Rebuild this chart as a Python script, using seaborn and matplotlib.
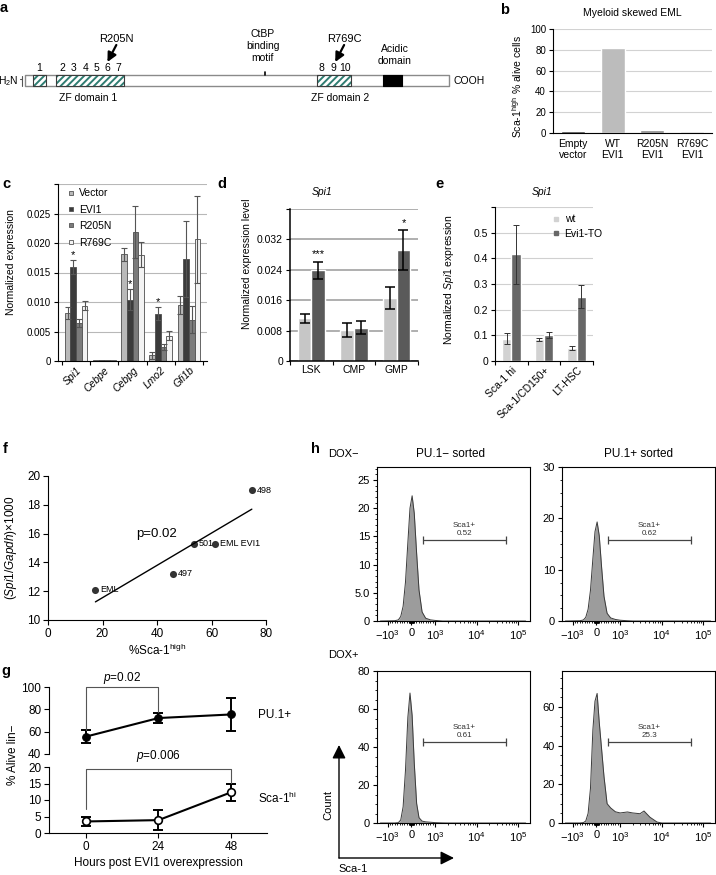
import numpy as np
import pandas as pd
import matplotlib
matplotlib.use("Agg")
import matplotlib.pyplot as plt
import seaborn as sns
from matplotlib.lines import Line2D
from matplotlib.patches import FancyArrowPatch
from matplotlib.ticker import FixedLocator, AutoMinorLocator

# ---------------- data ----------------
# a: EVI1 protein map (residues)
protein_len = 1051
zf_boxes = [(21, 32), (78, 168), (724, 84)]
acidic_box = [(887, 47)]
finger_pos = [36, 93, 120, 150, 177, 204, 231, 736, 764, 793]
finger_num = [str(i) for i in range(1, 11)]
zf_domain_names = ['ZF domain 1', 'ZF domain 2']
zf_domain_mid = [157, 781]
ctbp_pos = 595
mut_names = ['R205N', 'R769C']
mut_pos = [205, 769]

# b
b_groups = ['Empty\nvector', 'WT\nEVI1', 'R205N\nEVI1', 'R769C\nEVI1']
b_sca1_high = [1.5, 82, 3, 2]

# c
c_genes = ['Spi1', 'Cebpe', 'Cebpg', 'Lmo2', 'Gfi1b']
c_constructs = ['Vector', 'EVI1', 'R205N', 'R769C']
c_vector = [0.0082, 0.0002, 0.0181, 0.0010, 0.0095]
c_evi1 = [0.0159, 0.0002, 0.0104, 0.0080, 0.0173]
c_r205n = [0.0064, 0.0002, 0.0219, 0.0024, 0.0070]
c_r769c = [0.0094, 0.0002, 0.0180, 0.0043, 0.0206]
c_vector_err = [0.0010, 0, 0.0011, 0.0006, 0.0016]
c_evi1_err = [0.0012, 0, 0.0018, 0.0011, 0.0064]
c_r205n_err = [0.0007, 0, 0.0044, 0.0005, 0.0023]
c_r769c_err = [0.0008, 0, 0.0021, 0.0008, 0.0074]
c_star_genes = ['Spi1', 'Cebpg', 'Lmo2']

# d
d_cells = ['LSK', 'CMP', 'GMP']
d_ctrl = [0.0112, 0.0082, 0.0167]
d_ctrl_err = [0.0012, 0.0018, 0.0029]
d_evi1 = [0.0239, 0.0088, 0.0292]
d_evi1_err = [0.0022, 0.0018, 0.0052]
d_stars = ['***', '', '*']

# e
e_cells = ['Sca-1 hi', 'Sca-1/CD150+', 'LT-HSC']
e_wt = [0.087, 0.085, 0.052]
e_wt_err = [0.022, 0.006, 0.008]
e_evi1 = [0.415, 0.101, 0.250]
e_evi1_err = [0.116, 0.013, 0.045]

# f
f_names = ['EML', '497', '501', 'EML EVI1', '498']
f_sca1_high = [17.4, 46.0, 53.4, 61.3, 74.8]
f_spi1_gapdh = [12.1, 13.2, 15.3, 15.3, 19.0]

# g
g_hours = [0, 24, 48]
g_pu1 = [55.6, 72.2, 75.4]
g_pu1_err = [6.0, 4.5, 14.7]
g_sca1 = [3.5, 3.9, 12.3]
g_sca1_err = [1.5, 3.1, 2.6]

# h: flow histograms (Sca-1 intensity, count)
h_sca1 = [-1500, -700, -550, -450, -350, -250, -150, -60, 30, 120, 220, 320,
          450, 600, 800, 1000, 1500, 2000, 3000, 3750, 5200, 7700, 10000, 20000, 150000]
h_doxneg_pu1neg = [0, 0.05, 0.2, 0.8, 2.6, 6.9, 13.9, 20.0, 22.2, 19.1, 12.0, 5.5,
                   1.6, 0.5, 0.2, 0.1, 0, 0, 0, 0, 0, 0, 0, 0, 0]
h_doxneg_pu1pos = [0, 0.05, 0.2, 0.7, 2.3, 6.0, 12.1, 17.4, 19.3, 16.6, 10.4, 4.8,
                   1.5, 0.6, 0.3, 0.15, 0.05, 0, 0, 0, 0, 0, 0, 0, 0]
h_doxpos_pu1neg = [0, 0, 0.2, 1.6, 8.5, 27.8, 55.6, 68.4, 56.6, 31.5, 10.3, 2.8,
                   1.0, 0.6, 0.4, 0.2, 0.05, 0, 0, 0, 0, 0, 0, 0, 0]
h_doxpos_pu1pos = [0, 0, 0.2, 1.0, 5.0, 18, 48, 63, 67, 52, 38, 24,
                   10, 7.8, 5.8, 5.2, 5.7, 5.2, 4.8, 6.2, 3.0, 0.5, 0, 0, 0]
h_gate = (500, 50000)
h_gate_pct = ['0.52', '0.62', '0.61', '25.3']

# ---------------- style ----------------
sns.set_theme(style='ticks')
plt.rcParams['font.family'] = ['Liberation Sans', 'DejaVu Sans']
plt.rcParams.update({
    'font.size': 7.5, 'axes.labelsize': 7.5, 'xtick.labelsize': 7, 'ytick.labelsize': 7,
    'axes.linewidth': 0.8, 'axes.edgecolor': 'black', 'xtick.color': 'black',
    'ytick.color': 'black', 'text.color': 'black', 'axes.labelcolor': 'black',
    'xtick.major.size': 3, 'ytick.major.size': 3, 'xtick.major.width': 0.8,
    'ytick.major.width': 0.8, 'xtick.minor.size': 1.8, 'ytick.minor.size': 1.8,
    'xtick.major.pad': 2, 'ytick.major.pad': 2,
    'mathtext.fontset': 'custom', 'mathtext.rm': 'Liberation Sans',
    'mathtext.it': 'Liberation Sans:italic', 'mathtext.bf': 'Liberation Sans:bold',
    'hatch.linewidth': 1.4,
})

W, H = 716, 875
fig = plt.figure(figsize=(W / 100, H / 100), dpi=100)


def axes_px(left, top, right, bottom):
    return fig.add_axes([left / W, 1 - bottom / H, (right - left) / W, (bottom - top) / H])


def fig_xy(x, y):
    return x / W, 1 - y / H


def add_bar_errors(ax, errs, width, color, lw, capsize):
    n = len(errs)
    step = width / n
    tops = {}
    for p in ax.patches:
        cx = p.get_x() + p.get_width() / 2
        cat = int(round(cx))
        k = int(round((cx - cat + width / 2) / step - 0.5))
        e = errs[k][cat]
        tops[(k, cat)] = (cx, p.get_height() + e)
        if e > 0:
            ax.errorbar(cx, p.get_height(), yerr=e, fmt='none', ecolor=color,
                        elinewidth=lw, capsize=capsize, capthick=lw, zorder=4)
    return tops


def boundary_ticks(ax, n):
    ax.set_xticks(np.arange(-0.5, n, 1.0), minor=True)
    ax.tick_params(axis='x', which='major', length=0, pad=3)
    ax.tick_params(axis='x', which='minor', length=3, width=0.8)


# ---------------- a ----------------
ax_a = axes_px(0, 0, 500, 120)
ax_a.set_xlim(-61, 1177)
ax_a.set_ylim(120, 0)
ax_a.axis('off')
bar_top, bar_h = 75, 11
teal = '#2f7d72'
ax_a.broken_barh([(1, protein_len - 1)], (bar_top, bar_h), facecolors='white',
                 edgecolors='#8a8a8a', linewidth=1.0)
ax_a.broken_barh(zf_boxes, (bar_top, bar_h), facecolors='white', edgecolors=teal,
                 hatch='/////', linewidth=0)
ax_a.broken_barh(zf_boxes, (bar_top, bar_h), facecolors='none', edgecolors='#3c3c3c',
                 linewidth=0.8)
ax_a.broken_barh(acidic_box, (bar_top, bar_h), facecolors='black', edgecolors='black',
                 linewidth=0.8)
for x, s in zip(finger_pos, finger_num):
    ax_a.text(x, 68, s, ha='center', va='center', fontsize=7.5)
for x, s in zip(zf_domain_mid, zf_domain_names):
    ax_a.text(x, 98, s, ha='center', va='center', fontsize=7.5)
for x, s in zip(mut_pos, mut_names):
    ax_a.text(x + 22, 39, s, ha='center', va='center', fontsize=8)
    ax_a.annotate('', xy=(x, 62), xytext=(x + 22, 45),
                  arrowprops=dict(arrowstyle='-|>,head_length=0.6,head_width=0.3',
                                  color='black', lw=1.6, shrinkA=0, shrinkB=0,
                                  mutation_scale=9))
ax_a.text(ctbp_pos - 5, 46, 'CtBP\nbinding\nmotif', ha='center', va='center',
          fontsize=7.5, linespacing=1.3)
ax_a.plot([ctbp_pos, ctbp_pos], [72, 75], color='black', lw=1.2)
ax_a.text(917, 55, 'Acidic\ndomain', ha='center', va='center', fontsize=7.5,
          linespacing=1.3)
ax_a.text(-14, 81, 'H$_2$N', ha='right', va='center', fontsize=7.5)
ax_a.plot([-6, -6], [76, 86], color='#555555', lw=0.8)
ax_a.plot([-11, -6], [79, 79], color='#555555', lw=0.8)
ax_a.text(1061, 81, 'COOH', ha='left', va='center', fontsize=7.5)

# ---------------- b ----------------
ax_b = axes_px(553, 29, 712, 133)
sns.barplot(x=b_groups, y=b_sca1_high, hue=b_groups,
            palette=['#161616', '#bcbcbc', '#8a8a8a', '#e3e3e3'], saturation=1,
            width=0.6, legend=False, ax=ax_b)
ax_b.set_ylim(0, 100)
ax_b.set_yticks(range(0, 101, 20))
ax_b.yaxis.grid(True, color='#d2d2d2', lw=0.8)
ax_b.set_axisbelow(True)
sns.despine(ax=ax_b)
ax_b.tick_params(axis='x', length=0, pad=4, labelsize=7.5)
ax_b.set_title('Myeloid skewed EML', fontsize=7.5, pad=9)
ax_b.set_ylabel('Sca-1$^{\\mathrm{high}}$ % alive cells', fontsize=7.5)
ax_b.yaxis.set_label_coords(-0.18, 0.45)

# ---------------- c ----------------
ax_c = axes_px(58, 184, 207, 361)
c_colors = ['#b9b9b9', '#3b3b3b', '#7b7b7b', '#f3f3f3']
c_df = pd.DataFrame({
    'gene': c_genes * 4,
    'construct': np.repeat(c_constructs, len(c_genes)),
    'value': c_vector + c_evi1 + c_r205n + c_r769c,
})
sns.barplot(data=c_df, x='gene', y='value', hue='construct', palette=c_colors,
            saturation=1, width=0.8, errorbar=None, legend=False,
            edgecolor='#4e4e4e', linewidth=0.6, ax=ax_c)
c_tops = add_bar_errors(ax_c, [c_vector_err, c_evi1_err, c_r205n_err, c_r769c_err],
                        0.8, '#555555', 0.8, 2.2)
for g in c_star_genes:
    cx, top = c_tops[(1, c_genes.index(g))]
    ax_c.text(cx, top, '*', ha='center', va='bottom', fontsize=8)
ax_c.set_ylim(0, 0.030)
ax_c.set_yticks([0, 0.005, 0.010, 0.015, 0.020, 0.025, 0.030])
ax_c.set_yticklabels(['0', '0.005', '0.010', '0.015', '0.020', '0.025', ''])
ax_c.yaxis.grid(True, color='#b8b8b8', lw=0.8)
ax_c.set_axisbelow(True)
sns.despine(ax=ax_c)
boundary_ticks(ax_c, len(c_genes))
for t in ax_c.get_xticklabels():
    t.set_rotation(45)
    t.set_ha('right')
    t.set_rotation_mode('anchor')
    t.set_style('italic')
    t.set_fontsize(7.5)
ax_c.set_xlabel('')
ax_c.set_ylabel('Normalized expression', fontsize=7.5)
ax_c.yaxis.set_label_coords(-0.28, 0.56)
c_handles = [Line2D([], [], ls='none', marker='s', ms=3.5, mfc=col, mec='#555555', mew=0.6)
             for col in c_colors]
ax_c.legend(c_handles, c_constructs, loc='upper left', bbox_to_anchor=(0.03, 1.0),
            frameon=False, fontsize=7.5, handlelength=0.8, handletextpad=0.4,
            labelspacing=0.62, borderaxespad=0)

# ---------------- d ----------------
ax_d = axes_px(290, 209, 418, 361)
d_df = pd.DataFrame({
    'cell': d_cells * 2,
    'group': np.repeat(['ctrl', 'EVI1'], len(d_cells)),
    'value': d_ctrl + d_evi1,
})
sns.barplot(data=d_df, x='cell', y='value', hue='group', palette=['#c6c6c6', '#5a5a5a'],
            saturation=1, width=0.64, errorbar=None, legend=False, ax=ax_d)
d_tops = add_bar_errors(ax_d, [d_ctrl_err, d_evi1_err], 0.64, 'black', 1.1, 3.5)
for i, s in enumerate(d_stars):
    if s:
        cx, top = d_tops[(1, i)]
        ax_d.text(cx, top + 0.0006, s, ha='center', va='bottom', fontsize=8)
ax_d.set_ylim(0, 0.040)
ax_d.set_yticks([0, 0.008, 0.016, 0.024, 0.032, 0.040])
ax_d.set_yticklabels(['0', '0.008', '0.016', '0.024', '0.032', ''])
ax_d.yaxis.grid(True, color='#a9a9a9', lw=1.3)
ax_d.set_axisbelow(True)
sns.despine(ax=ax_d)
for sp in ax_d.spines.values():
    sp.set_linewidth(1.1)
boundary_ticks(ax_d, len(d_cells))
ax_d.tick_params(axis='x', labelsize=7.5)
ax_d.tick_params(axis='y', labelsize=7.5)
ax_d.set_xlabel('')
ax_d.set_ylabel('Normalized expression level', fontsize=7.5)
ax_d.yaxis.set_label_coords(-0.30, 0.64)
ax_d.text(0.25, 1.11, 'Spi1', style='italic', ha='center', va='center',
          fontsize=7.5, transform=ax_d.transAxes)

# ---------------- e ----------------
ax_e = axes_px(495, 207, 593, 361)
e_df = pd.DataFrame({
    'cell': e_cells * 2,
    'group': np.repeat(['wt', 'Evi1-TO'], len(e_cells)),
    'value': e_wt + e_evi1,
})
e_colors = ['#d2d2d2', '#676767']
sns.barplot(data=e_df, x='cell', y='value', hue='group', palette=e_colors,
            saturation=1, width=0.58, errorbar=None, legend=False, ax=ax_e)
add_bar_errors(ax_e, [e_wt_err, e_evi1_err], 0.58, '#333333', 0.7, 2)
ax_e.set_ylim(0, 0.6)
ax_e.set_yticks([0, 0.1, 0.2, 0.3, 0.4, 0.5, 0.6])
ax_e.set_yticklabels(['0', '0.1', '0.2', '0.3', '0.4', '0.5', ''])
ax_e.yaxis.grid(True, color='#d0d0d0', lw=0.8)
ax_e.set_axisbelow(True)
sns.despine(ax=ax_e)
boundary_ticks(ax_e, len(e_cells))
ax_e.tick_params(axis='y', labelsize=7.5)
for t in ax_e.get_xticklabels():
    t.set_rotation(45)
    t.set_ha('right')
    t.set_rotation_mode('anchor')
    t.set_fontsize(7.5)
ax_e.set_xlabel('')
ax_e.set_ylabel('Normalized $\\it{Spi1}$ expression', fontsize=7.5)
ax_e.yaxis.set_label_coords(-0.40, 0.53)
ax_e.text(0.48, 1.097, 'Spi1', style='italic', ha='center', va='center',
          fontsize=7.5, transform=ax_e.transAxes)
e_handles = [Line2D([], [], ls='none', marker='s', ms=3.5, mfc=col, mec=col)
             for col in e_colors]
ax_e.legend(e_handles, ['wt', 'Evi1-TO'], loc='upper left', bbox_to_anchor=(0.54, 0.98),
            frameon=False, fontsize=7.5, handlelength=0.8, handletextpad=0.4,
            labelspacing=0.45, borderaxespad=0)

# ---------------- f ----------------
ax_f = axes_px(48, 476, 266, 620)
sns.regplot(x=f_sca1_high, y=f_spi1_gapdh, ci=None, ax=ax_f, color='black',
            scatter_kws=dict(s=26, linewidths=0, zorder=3), line_kws=dict(lw=1.0))
for name, x, y in zip(f_names, f_sca1_high, f_spi1_gapdh):
    ax_f.annotate(name, (x, y), xytext=(3.5, 0), textcoords='offset points',
                  va='center', fontsize=6.5)
ax_f.text(40, 15.95, 'p=0.02', ha='center', va='center', fontsize=9.5)
ax_f.set_xlim(0, 80)
ax_f.set_ylim(10, 20)
ax_f.set_xticks([0, 20, 40, 60, 80])
ax_f.set_yticks([10, 12, 14, 16, 18, 20])
sns.despine(ax=ax_f)
ax_f.tick_params(labelsize=8.5, length=3.5)
ax_f.set_xlabel('%Sca-1$^{\\mathrm{high}}$', fontsize=8.5, labelpad=2)
ax_f.set_ylabel('($\\it{Spi1/Gapdh}$)×1000', fontsize=8.5)
ax_f.yaxis.set_label_coords(-0.133, 0.5)

# ---------------- g ----------------
ax_g1 = axes_px(49, 687, 267, 754)
ax_g2 = axes_px(49, 767, 267, 833)
sns.lineplot(x=g_hours, y=g_pu1, ax=ax_g1, color='black', lw=1.5, marker='o',
             markersize=5.5, markeredgecolor='black', zorder=3)
ax_g1.errorbar(g_hours, g_pu1, yerr=g_pu1_err, fmt='none', ecolor='black',
               elinewidth=1.4, capsize=3.5, capthick=1.4)
sns.lineplot(x=g_hours, y=g_sca1, ax=ax_g2, color='black', lw=1.5, marker='o',
             markersize=5.5, markerfacecolor='white', markeredgecolor='black',
             markeredgewidth=1.2, zorder=3)
ax_g2.errorbar(g_hours, g_sca1, yerr=g_sca1_err, fmt='none', ecolor='black',
               elinewidth=1.4, capsize=3.5, capthick=1.4)
for ax in (ax_g1, ax_g2):
    ax.set_xlim(-12.3, 60)
    ax.tick_params(labelsize=8.5, length=3.5)
ax_g1.set_ylim(40, 100)
ax_g1.set_yticks([40, 60, 80, 100])
ax_g1.set_xticks([])
sns.despine(ax=ax_g1, bottom=True)
ax_g2.set_ylim(0, 20)
ax_g2.set_yticks([0, 5, 10, 15, 20])
ax_g2.set_xticks(g_hours)
sns.despine(ax=ax_g2)
ax_g1.plot([0, 0, 24, 24], [61.7, 100, 100, 77.5], color='#555555', lw=0.8, clip_on=False)
ax_g1.text(12, 101.3, '$\\it{p}$=0.02', ha='center', va='bottom', fontsize=8.5)
ax_g2.plot([0, 0, 48, 48], [7.2, 19.5, 19.5, 15.3], color='#555555', lw=0.8, clip_on=False)
ax_g2.text(24, 21.0, '$\\it{p}$=0.006', ha='center', va='bottom', fontsize=8.5)
ax_g1.text(57, 75, 'PU.1+', ha='left', va='center', fontsize=8.5, clip_on=False)
ax_g2.text(57, 10.5, 'Sca-1$^{\\mathrm{hi}}$', ha='left', va='center', fontsize=8.5,
           clip_on=False)
ax_g2.set_xlabel('Hours post EVI1 overexpression', fontsize=8.5, labelpad=3)
fig.text(*fig_xy(13, 755), '% Alive lin\u2212', rotation=90, ha='center', va='center',
         fontsize=8.5)

# ---------------- h ----------------
h_panels = [
    (axes_px(377, 467, 530, 621), h_doxneg_pu1neg, 27.3, [0, 5, 10, 15, 20, 25],
     ['0', '5.0', '10', '15', '20', '25'], 14.4),
    (axes_px(562, 467, 715, 621), h_doxneg_pu1pos, 30, [0, 10, 20, 30],
     ['0', '10', '20', '30'], 15.8),
    (axes_px(377, 671, 530, 823), h_doxpos_pu1neg, 80, [0, 20, 40, 60, 80],
     ['0', '20', '40', '60', '80'], 42.6),
    (axes_px(562, 671, 715, 823), h_doxpos_pu1pos, 78.6, [0, 20, 40, 60],
     ['0', '20', '40', '60'], 42.0),
]
lin_minor = [s * k * 10 ** j for s in (-1, 1) for j in (1, 2) for k in range(1, 10)]
log_minor = [k * 10 ** j for j in (3, 4) for k in range(2, 10)]
for (ax, counts, ymax, yt, ytl, gate_y), pct in zip(h_panels, h_gate_pct):
    ax.set_xscale('symlog', linthresh=1000, linscale=0.513)
    ax.fill_between(h_sca1, counts, color='#9c9c9c', lw=0, zorder=2)
    sns.lineplot(x=h_sca1, y=counts, ax=ax, color='#3a3a3a', lw=0.7, zorder=3)
    ax.set_xlim(-1807, 190500)
    ax.set_ylim(0, ymax)
    ax.set_xticks([-1000, 0, 1000, 10000, 100000])
    ax.set_xticklabels(['$-10^3$', '0', '$10^3$', '$10^4$', '$10^5$'])
    ax.xaxis.set_minor_locator(FixedLocator(lin_minor + log_minor))
    ax.set_yticks(yt)
    ax.set_yticklabels(ytl)
    ax.yaxis.set_minor_locator(AutoMinorLocator(5 if yt[1] == 5 else 4))
    ax.tick_params(labelsize=8, length=3)
    ax.tick_params(which='minor', length=1.6, width=0.6)
    for sp in ax.spines.values():
        sp.set_visible(True)
        sp.set_linewidth(0.8)
    ax.plot(list(h_gate), [gate_y, gate_y], color='#444444', lw=0.9, marker='|',
            ms=6, mew=0.9, zorder=4)
    ax.annotate('Sca1+\n' + pct, (5000, gate_y), xytext=(0, 2), textcoords='offset points',
                ha='center', va='bottom', fontsize=5.8, linespacing=1.25, color='#333333')

fig.text(*fig_xy(328, 454), 'DOX\u2212', ha='left', va='center', fontsize=8)
fig.text(*fig_xy(328, 655), 'DOX+', ha='left', va='center', fontsize=8)
fig.text(*fig_xy(450, 454), 'PU.1\u2212 sorted', ha='center', va='center', fontsize=8.5)
fig.text(*fig_xy(638, 454), 'PU.1+ sorted', ha='center', va='center', fontsize=8.5)
for end in [(339, 745), (454, 858)]:
    fig.add_artist(FancyArrowPatch(fig_xy(339, 858), fig_xy(*end), transform=fig.transFigure,
                                   arrowstyle='-|>,head_length=0.9,head_width=0.45',
                                   mutation_scale=9, color='black', lw=1.0,
                                   shrinkA=0, shrinkB=0))
fig.text(*fig_xy(328, 805), 'Count', rotation=90, ha='center', va='center', fontsize=8)
fig.text(*fig_xy(353, 869), 'Sca-1', ha='center', va='center', fontsize=8)

# ---------------- panel letters ----------------
for letter, (x, y) in zip('abcdefgh', [(4, 8), (505, 10), (6, 184), (222, 184), (440, 184),
                                       (5, 449), (6, 671), (315, 449)]):
    fig.text(*fig_xy(x, y), letter, fontsize=10.5, fontweight='bold', ha='center', va='center')

fig.savefig('out.png', dpi=100)
